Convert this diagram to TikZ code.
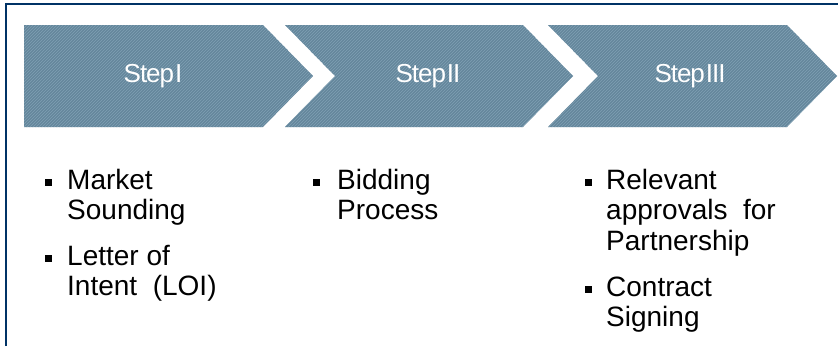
\documentclass[tikz,border=0pt]{standalone}
\usepackage{fontspec}
\setmainfont{Liberation Sans}
\usetikzlibrary{positioning,patterns}
\definecolor{frameblue}{RGB}{0,51,102}
\definecolor{stepfill}{RGB}{100,134,155}
\definecolor{stepgrain}{RGB}{128,160,180}
\begin{document}
\begin{tikzpicture}[x=1pt,y=-1pt,
    stepshape/.style ={fill=stepfill, postaction={pattern=north east lines, pattern color=stepgrain}},
    steplabel/.style ={text=white, inner sep=0pt, font=\fontsize{26}{30}\selectfont\addfontfeatures{LetterSpace=-4}},
    item/.style ={anchor=base west, align=left, inner sep=0pt, font=\fontsize{28}{30.5}\selectfont},
    bullet/.style ={fill=black, inner sep=0pt, minimum size=7pt}]
   \useasboundingbox (0,0) rectangle (838,346);
   \draw[frameblue, line width=2pt] (6,346) -- (6,4) -- (838,4);
   % the three steps
   \path[stepshape] (24,25) -- (263,25) -- (313,76) -- (263,127) -- (24,127) -- cycle;
   \path[stepshape] (285,25) -- (523,25) -- (573,76) -- (523,127) -- (285,127) -- (335,76) -- cycle;
   \path[stepshape] (548,25) -- (787,25) -- (837,76) -- (787,127) -- (548,127) -- (598,76) -- cycle;
   \node[steplabel] (S1) at (153,76) {Step\hspace{1pt}I};
   \node[steplabel] (S2) at (428,76) {Step\hspace{1pt}II};
   \node[steplabel] (S3) at (690,76) {Step\hspace{1pt}III};
   % what each step holds (base = last line)
   \node[bullet] (B1) at (48.5,182) {};
   \node[item] (M1) at (67,219.5) {Market\\Sounding};
   \node[bullet] (B2) at (48.5,258) {};
   \node[item] (M2) at (67,295.5) {Letter of\\Intent\ \ (LOI)};
   \node[bullet] (B3) at (316.5,182) {};
   \node[item] (M3) at (337,219.5) {Bidding\\Process};
   \node[bullet] (B4) at (588.5,182) {};
   \node[item] (M4) at (606,250) {Relevant\\approvals\ \ for\\Partnership};
   \node[bullet] (B5) at (588.5,289) {};
   \node[item] (M5) at (606,326.5) {Contract\\Signing};
 \end{tikzpicture}
\end{document}
